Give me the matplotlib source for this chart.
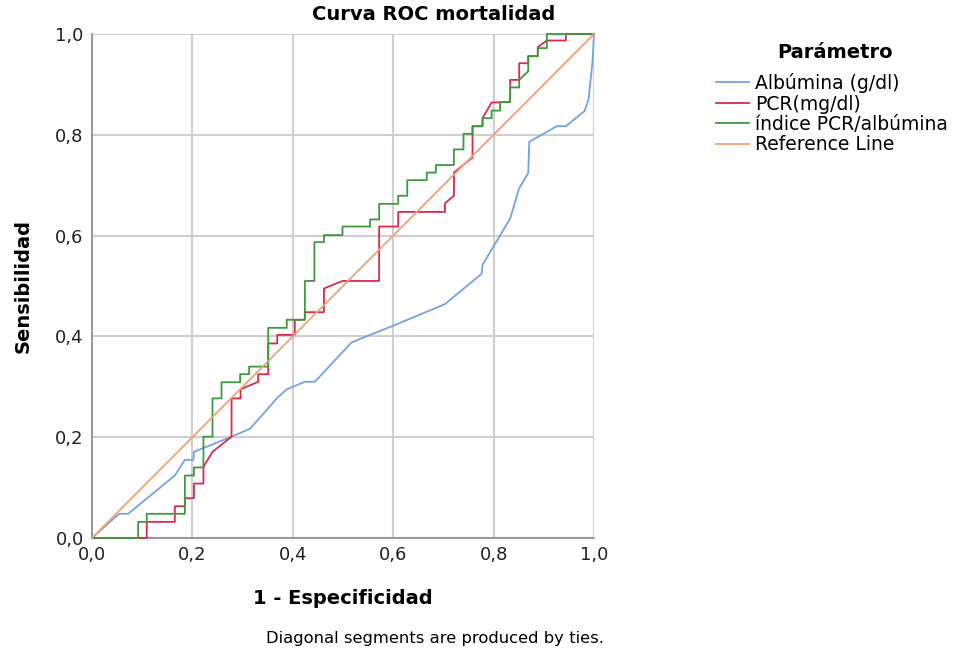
import matplotlib
matplotlib.use('Agg')
import matplotlib.pyplot as plt

# ROC curve vertices (1 - especificidad, sensibilidad)
alb_fpr = [0.0, 0.054, 0.072, 0.165, 0.185, 0.202, 0.203, 0.278, 0.315, 0.355, 0.368,
           0.388, 0.424, 0.444, 0.517, 0.614, 0.703, 0.776, 0.778, 0.833, 0.851,
           0.869, 0.871, 0.926, 0.944, 0.981, 0.989, 0.997, 1.0]
alb_tpr = [0.0, 0.048, 0.048, 0.124, 0.155, 0.155, 0.171, 0.201, 0.217, 0.262, 0.277,
           0.295, 0.310, 0.310, 0.388, 0.427, 0.464, 0.524, 0.542, 0.634, 0.694,
           0.724, 0.786, 0.817, 0.817, 0.847, 0.869, 0.945, 1.0]

pcr_fpr = [0.0, 0.109, 0.109, 0.165, 0.165, 0.185, 0.185, 0.203, 0.203, 0.222, 0.222,
           0.240, 0.278, 0.278, 0.296, 0.296, 0.331, 0.331, 0.351, 0.351, 0.369, 0.369,
           0.404, 0.404, 0.424, 0.424, 0.462, 0.462, 0.499, 0.572, 0.572, 0.610, 0.610,
           0.703, 0.703, 0.721, 0.721, 0.758, 0.758, 0.778, 0.778, 0.796, 0.833, 0.833,
           0.851, 0.851, 0.869, 0.869, 0.888, 0.888, 0.906, 0.944, 0.944, 1.0]
pcr_tpr = [0.0, 0.0, 0.032, 0.032, 0.063, 0.063, 0.079, 0.079, 0.108, 0.108, 0.141,
           0.171, 0.201, 0.277, 0.277, 0.295, 0.310, 0.325, 0.325, 0.386, 0.386, 0.403,
           0.403, 0.433, 0.433, 0.448, 0.448, 0.495, 0.510, 0.510, 0.618, 0.618, 0.647,
           0.647, 0.664, 0.679, 0.725, 0.755, 0.817, 0.817, 0.833, 0.864, 0.865, 0.909,
           0.909, 0.942, 0.942, 0.956, 0.956, 0.974, 0.987, 0.987, 1.0, 1.0]

idx_fpr = [0.0, 0.092, 0.092, 0.109, 0.109, 0.185, 0.185, 0.203, 0.203, 0.222, 0.222,
           0.240, 0.240, 0.258, 0.258, 0.295, 0.295, 0.313, 0.313, 0.351, 0.351, 0.388,
           0.388, 0.424, 0.424, 0.443, 0.443, 0.462, 0.462, 0.499, 0.499, 0.554, 0.554,
           0.572, 0.572, 0.610, 0.610, 0.628, 0.628, 0.667, 0.667, 0.685, 0.685, 0.721,
           0.721, 0.740, 0.740, 0.758, 0.758, 0.778, 0.778, 0.796, 0.796, 0.813, 0.813,
           0.833, 0.833, 0.851, 0.851, 0.869, 0.869, 0.888, 0.888, 0.906, 0.906, 1.0]
idx_tpr = [0.0, 0.0, 0.032, 0.032, 0.048, 0.048, 0.124, 0.124, 0.140, 0.140, 0.201,
           0.201, 0.277, 0.277, 0.309, 0.309, 0.325, 0.325, 0.340, 0.340, 0.417, 0.417,
           0.433, 0.433, 0.510, 0.510, 0.587, 0.587, 0.601, 0.601, 0.618, 0.618, 0.632,
           0.632, 0.663, 0.663, 0.679, 0.679, 0.710, 0.710, 0.725, 0.725, 0.740, 0.740,
           0.771, 0.771, 0.802, 0.802, 0.817, 0.817, 0.833, 0.833, 0.848, 0.848, 0.865,
           0.865, 0.894, 0.894, 0.909, 0.926, 0.956, 0.956, 0.972, 0.972, 1.0, 1.0]

ref_x = [0.0, 1.0]
ref_y = [0.0, 1.0]

labels = ['Albúmina (g/dl)', 'PCR(mg/dl)', 'índice PCR/albúmina', 'Reference Line']
colors = ['#72a2e8', '#dc2a4c', '#3d9a3d', '#f5a070']
ticks = [0.0, 0.2, 0.4, 0.6, 0.8, 1.0]
tick_labels = ['0,0', '0,2', '0,4', '0,6', '0,8', '1,0']

fig = plt.figure(figsize=(9.6, 6.53), dpi=100)
ax = fig.add_axes([92/960, 1 - 538/653, 502/960, 504/653])

curves = [(alb_fpr, alb_tpr), (pcr_fpr, pcr_tpr), (idx_fpr, idx_tpr), (ref_x, ref_y)]
handles = []
for (xs, ys), lab, col in zip(curves, labels, colors):
    h, = ax.plot(xs, ys, color=col, lw=1.3, label=lab, clip_on=False, zorder=3)
    handles.append(h)

ax.set_xlim(0, 1)
ax.set_ylim(0, 1)
ax.set_xticks(ticks)
ax.set_yticks(ticks)
ax.set_xticklabels(tick_labels)
ax.set_yticklabels(tick_labels)
ax.tick_params(length=0, labelsize=13, colors='#222222', pad=6)
ax.grid(True, color='#cfcfcf', lw=1.5)
ax.set_axisbelow(True)
for s in ['top', 'right']:
    ax.spines[s].set_visible(False)
for s in ['left', 'bottom']:
    ax.spines[s].set_color('#8a8a8a')
    ax.spines[s].set_linewidth(1.2)

ax.set_xlabel('1 - Especificidad', fontsize=14, fontweight='bold', labelpad=18)
ax.set_ylabel('Sensibilidad', fontsize=14, fontweight='bold', labelpad=16)

fig.text(434/960, 1 - 15/653, 'Curva ROC mortalidad', ha='center', va='center',
         fontsize=14, fontweight='bold')
fig.text(435/960, 1 - 639/653, 'Diagonal segments are produced by ties.', ha='center',
         va='center', fontsize=11.8)

# legend title drawn separately so the gap to the entries matches
fig.text(835/960, 1 - 52/653, 'Parámetro', ha='center', va='center',
         fontsize=14, fontweight='bold')
leg = fig.legend(handles=handles, labels=labels,
                 loc='upper left', bbox_to_anchor=(716/960, 1 - 73/653),
                 frameon=False, fontsize=13.5, handlelength=1.75, handletextpad=0.35,
                 labelspacing=0.08, borderpad=0, borderaxespad=0)

plt.savefig('out.png', dpi=100)
plt.close()
